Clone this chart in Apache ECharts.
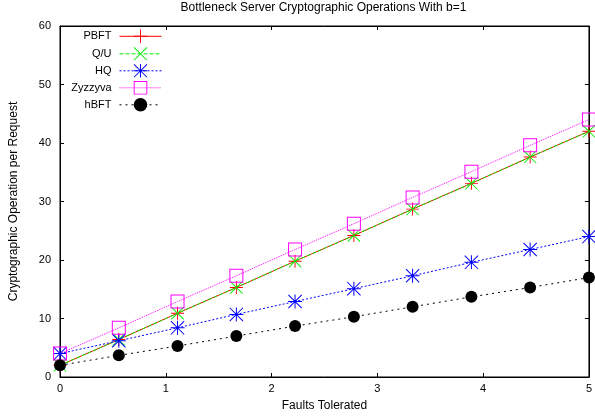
<!DOCTYPE html>
<html>
<head>
<meta charset="utf-8">
<script src="https://cdn.jsdelivr.net/npm/echarts@6/dist/echarts.min.js"></script>
<style>
  html, body { margin: 0; padding: 0; background: #fff; }
  #chart { width: 595px; height: 417px; }
</style>
</head>
<body>
<div id="chart"></div>
<script>
// Faults tolerated (x) and operations per request for each protocol
const faults = [0, 0.556, 1.111, 1.667, 2.222, 2.778, 3.333, 3.889, 4.444, 5];
const pbft    = [2, 6.4, 10.9, 15.3, 19.8, 24.2, 28.7, 33.1, 37.6, 42];
const qu      = [2, 6.4, 10.9, 15.3, 19.8, 24.2, 28.7, 33.1, 37.6, 42];
const hq      = [4, 6.2, 8.4, 10.7, 12.9, 15.1, 17.3, 19.6, 21.8, 24];
const zyzzyva = [4, 8.4, 12.9, 17.3, 21.8, 26.2, 30.7, 35.1, 39.6, 44];
const hbft    = [2, 3.7, 5.3, 7, 8.7, 10.3, 12, 13.7, 15.3, 17];
const seriesNames = ['PBFT', 'Q/U', 'HQ', 'Zyzzyva', 'hBFT'];

const FONT = '"Liberation Sans", Arial, Helvetica, sans-serif';

// Point marker shapes (filled outlines, 14-unit box)
const PLUS = 'path://M6.5 0H7.5V6.5H14V7.5H7.5V14H6.5V7.5H0V6.5H6.5Z';
const CROSS = 'path://M0 0.7L0.7 0L14 13.3L13.3 14Z M13.3 0L14 0.7L0.7 14L0 13.3Z';
const STAR = 'path://M6.5 0H7.5V6.5H14V7.5H7.5V14H6.5V7.5H0V6.5H6.5Z M0 0.7L0.7 0L14 13.3L13.3 14Z M13.3 0L14 0.7L0.7 14L0 13.3Z';
const SQUARE = 'path://M0 0H14V14H0Z M1 1V13H13V1Z';

function pairs(ys) { return faults.map((x, i) => [x, ys[i]]); }

function lineSeries(name, ys, color, type, symbol, size) {
  return {
    name, type: 'line', data: pairs(ys),
    xAxisIndex: 0, yAxisIndex: 0,
    symbol, symbolSize: size, showAllSymbol: true,
    lineStyle: { color, width: 1, type },
    itemStyle: { color },
    emphasis: { disabled: true }
  };
}

// One legend block per entry, right edges aligned so the keys line up
const legendRows = [38, 55.5, 72.5, 89.5, 106.5];
const LEG_H = 17;
const legends = seriesNames.map((n, i) => ({
  data: [n], orient: 'vertical', align: 'right',
  right: 433, top: legendRows[i] - LEG_H / 2, padding: 0,
  itemWidth: 42, itemHeight: LEG_H, itemGap: 0,
  selectedMode: false,
  lineStyle: { width: 1 },
  textStyle: { fontFamily: FONT, fontSize: 11, color: '#000', padding: [0, 3, 0, 0] }
}));

const axisCommon = {
  type: 'value',
  axisLine: { show: true, onZero: false, lineStyle: { color: '#000', width: 1 } },
  axisTick: { show: true, inside: true, length: 4, lineStyle: { color: '#000', width: 1 } },
  splitLine: { show: false }
};

const option = {
  animation: false,
  backgroundColor: '#fff',
  title: {
    text: 'Bottleneck Server Cryptographic Operations With b=1',
    left: 323.5, textAlign: 'center', top: 2, padding: 0,
    textStyle: { fontFamily: FONT, fontSize: 12, fontWeight: 'normal', color: '#000' }
  },
  legend: legends,
  grid: {
    left: 58, right: 6, top: 26, bottom: 40, containLabel: false,
    show: true, borderColor: '#000', borderWidth: 1, backgroundColor: 'transparent'
  },
  xAxis: [
    Object.assign({}, axisCommon, {
      min: 0, max: 5, interval: 1, position: 'bottom',
      name: 'Faults Tolerated', nameLocation: 'middle', nameGap: 23,
      nameTextStyle: { fontFamily: FONT, fontSize: 12, color: '#000' },
      axisLabel: { fontFamily: FONT, fontSize: 11, color: '#000', margin: 6 }
    }),
    Object.assign({}, axisCommon, {
      min: 0, max: 5, interval: 1, position: 'top',
      axisLabel: { show: false }
    })
  ],
  yAxis: [
    Object.assign({}, axisCommon, {
      min: 0, max: 60, interval: 10, position: 'left',
      name: 'Cryptographic Operation per Request', nameLocation: 'middle', nameGap: 40,
      nameTextStyle: { fontFamily: FONT, fontSize: 12, color: '#000' },
      axisLabel: { fontFamily: FONT, fontSize: 11, color: '#000', margin: 9 }
    }),
    Object.assign({}, axisCommon, {
      min: 0, max: 60, interval: 10, position: 'right',
      axisLabel: { show: false }
    })
  ],
  series: [
    lineSeries('PBFT', pbft, '#ff0000', 'solid', PLUS, 13),
    lineSeries('Q/U', qu, '#00ee00', [4, 2], CROSS, 13),
    lineSeries('HQ', hq, '#0000ff', [2, 2], STAR, 14),
    lineSeries('Zyzzyva', zyzzyva, '#ff00ff', [1, 1], SQUARE, 14),
    lineSeries('hBFT', hbft, '#000000', [2, 4], 'circle', 12),
    // empty series that binds the mirrored top/right axes so their ticks render
    { type: 'line', data: [], xAxisIndex: 1, yAxisIndex: 1, silent: true }
  ]
};

echarts.init(document.getElementById('chart'), null, { renderer: 'canvas' }).setOption(option);
</script>
</body>
</html>
